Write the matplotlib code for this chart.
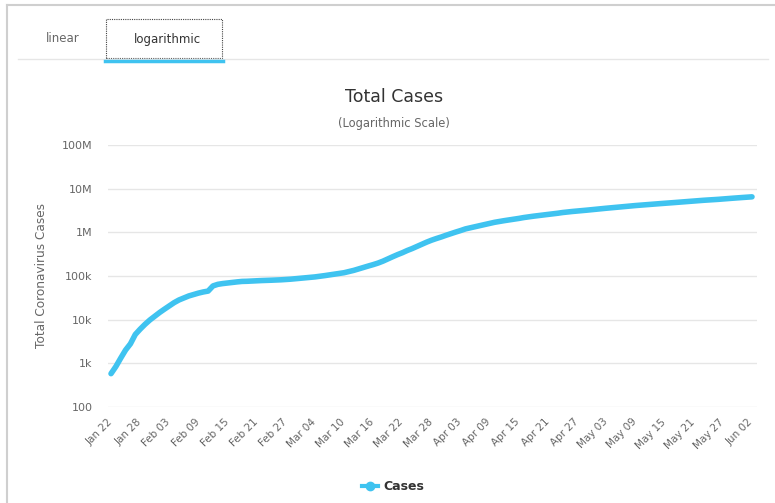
import numpy as np
import pandas as pd
import matplotlib
matplotlib.use("Agg")
import matplotlib.pyplot as plt
import matplotlib.transforms as mtransforms
from matplotlib.lines import Line2D
from matplotlib.patches import Rectangle

plt.rcParams["font.family"] = ["DejaVu Sans"]

START = "2020-01-22"
CASES = [
    580, 845, 1317, 2015, 2800, 4581, 6058, 7813, 9823, 11950,
    14553, 17391, 20630, 24545, 28266, 31439, 34876, 37552, 40553, 43099,
    45170, 59283, 64437, 67100, 69197, 71329, 73332, 75184, 75700, 76677,
    77673, 78651, 79205, 80087, 80828, 81820, 83112, 84615, 86604,
    88585, 90443, 93016, 95314, 98425, 102050, 106099, 109991, 114381, 118948,
    126214, 134576, 145483, 156653, 169511, 182405, 198006, 218638, 246276, 275867,
    308463, 341365, 383514, 424000, 475000, 533000, 596000, 660000, 721000, 782000,
    857000,
    933000, 1015000, 1099000, 1199000, 1272000, 1347000, 1430000, 1516000, 1603000, 1698000,
    1779000, 1853000, 1926000, 1998000, 2083000, 2180000, 2264000, 2342000, 2420000, 2497000,
    2573000, 2653000, 2737000, 2842000, 2926000, 3003000, 3068000, 3140000, 3220000, 3307000,
    3400000, 3484000, 3565000, 3645000, 3730000, 3824000, 3921000, 4017000, 4106000, 4184000,
    4261000, 4346000, 4440000, 4537000, 4634000, 4730000, 4807000, 4897000, 4993000, 5098000,
    5206000, 5313000, 5416000, 5496000, 5590000, 5689000, 5797000, 5917000, 6042000, 6170000,
    6273000,
    6380000, 6500000,
]
Y_TICKS = [100, 1e3, 1e4, 1e5, 1e6, 1e7, 1e8]
Y_LABELS = ["100", "1k", "10k", "100k", "1M", "10M", "100M"]
TICK_STEP = 6

dates = pd.date_range(START, periods=len(CASES), freq="D")
labels = [d.strftime("%b %d") for d in dates]
x = np.arange(len(CASES))

BLUE = "#3fc3f0"
W, H = 775, 503
fig = plt.figure(figsize=(W / 100, H / 100), dpi=100)

# page frame + tabs
fig.add_artist(Line2D([7 / W, 1], [1 - 5 / H] * 2, color="#cfcfcf", lw=1.5))
fig.add_artist(Line2D([7 / W] * 2, [0, 1 - 5 / H], color="#cfcfcf", lw=1.5))
fig.add_artist(Line2D([18 / W, 768 / W], [1 - 59 / H] * 2, color="#e6e6e6", lw=1))
fig.add_artist(Rectangle((106 / W, 1 - 58 / H), 116 / W, 39 / H, fill=False,
                         ls=(0, (1, 1)), lw=0.8, ec="#444444"))
fig.add_artist(Line2D([105 / W, 223 / W], [1 - 61 / H] * 2, color=BLUE, lw=2.5))
fig.text(63 / W, 1 - 39 / H, "linear", ha="center", va="center", fontsize=8.5, color="#666666")
fig.text(167 / W, 1 - 39 / H, "logarithmic", ha="center", va="center", fontsize=8.5, color="#333333")

fig.text(394 / W, 1 - 97 / H, "Total Cases", ha="center", va="center", fontsize=12.5,
         color="#333333", weight="medium")
fig.text(394 / W, 1 - 124 / H, "(Logarithmic Scale)", ha="center", va="center", fontsize=8.3, color="#666666")

ax = fig.add_axes([108 / W, 1 - 407 / H, 649 / W, 262 / H])
ax.plot(x, CASES, color=BLUE, lw=4, solid_capstyle="round", solid_joinstyle="round", label="Cases")
ax.set_yscale("log")
ax.set_ylim(100, 1e8)
ax.set_xlim(-0.62, len(CASES) - 1 + 1.03)
ax.set_yticks(Y_TICKS)
ax.set_yticklabels(Y_LABELS)
ax.minorticks_off()
ax.set_xticks(x[::TICK_STEP])
ax.set_xticklabels(labels[::TICK_STEP], rotation=45, ha="right", rotation_mode="anchor")
ax.tick_params(axis="x", length=0, pad=7, labelsize=7.5, labelcolor="#666666")
ax.tick_params(axis="y", length=0, pad=11, labelsize=8, labelcolor="#666666")
# nudge the rotated date labels a few pixels left, as in the original
shift = mtransforms.ScaledTranslation(-4 / 100, 0, fig.dpi_scale_trans)
for lab in ax.get_xticklabels():
    lab.set_transform(lab.get_transform() + shift)
ax.grid(axis="y", color="#e6e6e6", lw=1)
for s in ax.spines.values():
    s.set_visible(False)
ax.set_ylabel("Total Coronavirus Cases", fontsize=8.7, color="#666666", labelpad=10)

handle = Line2D([], [], color=BLUE, lw=3, marker="o", ms=6)
fig.legend([handle], ["Cases"], loc="center", bbox_to_anchor=(393 / W, 1 - 487 / H),
           frameon=False, handlelength=1.3, handletextpad=0.4,
           prop={"size": 9, "weight": "bold"}, labelcolor="#333333")

fig.savefig("out.png", dpi=100)
